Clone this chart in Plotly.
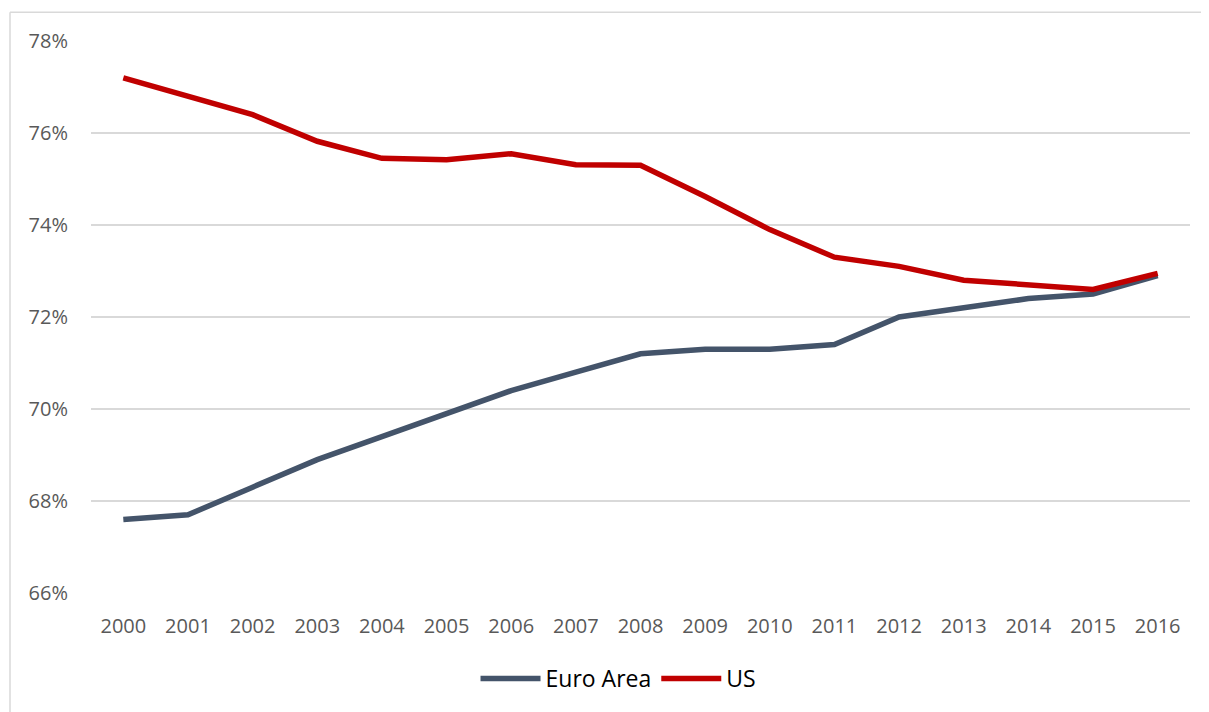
import plotly.graph_objects as go

years = [str(y) for y in range(2000, 2017)]
euro_area = [67.6, 67.7, 68.3, 68.9, 69.4, 69.9, 70.4, 70.8, 71.2, 71.3, 71.3, 71.4, 72.0, 72.2, 72.4, 72.5, 72.9]
us = [77.2, 76.8, 76.4, 75.82, 75.45, 75.42, 75.55, 75.31, 75.3, 74.62, 73.9, 73.3, 73.1, 72.8, 72.7, 72.6, 72.95]
y_ticks = [66, 68, 70, 72, 74, 76, 78]

fig = go.Figure()
fig.add_trace(go.Scatter(x=years, y=euro_area, name="Euro Area", mode="lines",
                         line=dict(color="#44546A", width=5.5)))
fig.add_trace(go.Scatter(x=years, y=us, name="US", mode="lines",
                         line=dict(color="#C00000", width=5.5)))

tick_font = dict(family="Open Sans, Liberation Sans, sans-serif", size=20, color="#595959")
border = dict(color="#D9D9D9", width=1.5)

# page body adds ~8px margin, so the figure is a bit smaller than the window
fig.update_layout(
    width=1201, height=704,
    margin=dict(l=83, r=19, t=33, b=117),
    plot_bgcolor="white", paper_bgcolor="white",
    showlegend=True,
    legend=dict(orientation="h", x=0.48, xanchor="center", y=-0.155, yanchor="middle",
                font=dict(family="Open Sans, Liberation Sans, sans-serif", size=23, color="#000000"),
                itemwidth=60),
    xaxis=dict(type="category", range=[-0.5, 16.5], showgrid=False, showline=False,
               ticks="", tickfont=tick_font, ticklabelstandoff=19),
    yaxis=dict(range=[66, 78], tickvals=y_ticks, ticktext=[f"{v}%" for v in y_ticks],
               showgrid=True, gridcolor="#D9D9D9", gridwidth=1.8, zeroline=False,
               showline=False, ticks="", tickfont=tick_font, ticklabelstandoff=22),
    shapes=[
        dict(type="line", xref="paper", yref="paper", x0=-0.0737, x1=-0.0737,
             y0=-0.3, y1=1.0523, line=border, layer="below"),
        dict(type="line", xref="paper", yref="paper", x0=-0.0737, x1=1.1,
             y0=1.0523, y1=1.0523, line=border, layer="below"),
    ],
)

fig.write_html("out.html")
